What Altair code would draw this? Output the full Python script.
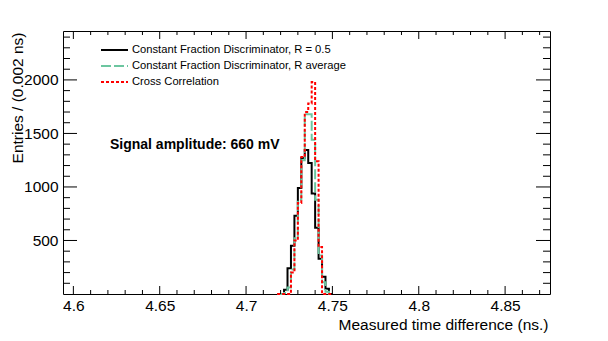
import altair as alt
import pandas as pd

# ---------------- data ----------------
series_names = [
    "Constant Fraction Discriminator, R = 0.5",
    "Constant Fraction Discriminator, R average",
    "Cross Correlation",
]
bin_start = 4.718
bin_width = 0.002
cfd_05 = [0, 0, 40, 240, 450, 730, 990, 1270, 1345, 1225, 940, 620, 330, 160, 50, 0, 0]
cfd_avg = [0, 0, 10, 60, 230, 520, 880, 1250, 1680, 1680, 1440, 880, 360, 110, 20, 0, 0]
cross_corr = [0, 0, 0, 0, 200, 500, 850, 1280, 1700, 1780, 1980, 1240, 440, 0, 0, 0, 0]

x_major = [4.6, 4.65, 4.7, 4.75, 4.8, 4.85]
x_minor = [round(4.6 + 0.01 * i, 2) for i in range(28) if i % 5]
y_major = [500, 1000, 1500, 2000]
y_minor = [v for v in range(100, 2500, 100) if v % 500]

annotation = "Signal amplitude: 660 mV"
x_title = "Measured time difference (ns.)"
y_title = "Entries / (0.002 ns)"

# ---------------- build table ----------------
rows = []
for name, vals in zip(series_names, [cfd_05, cfd_avg, cross_corr]):
    for i, v in enumerate(vals):
        rows.append({"series": name, "x": round(bin_start + bin_width * i, 4), "n": v})
hist = pd.DataFrame(rows)

W, H = 487, 263
FONT = "Liberation Sans"
colors = ["#000000", "#6cc6a0", "#ff0000"]
dashes = [[1, 0], [10, 3], [3, 2]]

xs = alt.Scale(domain=[4.594, 4.876], nice=False, zero=False)
ys = alt.Scale(domain=[0, 2457], nice=False, zero=False)

xaxis = alt.Axis(values=x_major, format="~g", ticks=False, tickSize=0, domain=False, grid=False,
                 labelFont=FONT, labelFontSize=15.5, labelColor="black", labelPadding=4,
                 title=x_title, titleFont=FONT, titleFontSize=15.5, titleFontWeight="normal",
                 titleColor="black", titleX=W - 2, titleY=23, titleAlign="right", titleBaseline="top")
yaxis = alt.Axis(values=y_major, format="d", ticks=False, tickSize=0, domain=False, grid=False,
                 labelFont=FONT, labelFontSize=15.5, labelColor="black", labelPadding=5,
                 title=y_title, titleFont=FONT, titleFontSize=15.5, titleFontWeight="normal",
                 titleColor="black", titleAngle=270, titleAlign="right", titleBaseline="middle",
                 titleX=-46, titleY=1)

leg = alt.Legend(orient="none", legendX=37, legendY=11, title=None, symbolType="stroke",
                 symbolSize=729, symbolStrokeWidth=2, labelFont=FONT, labelFontSize=11.2,
                 labelColor="black", labelOffset=3, clipHeight=16, rowPadding=0, padding=0,
                 labelLimit=400)

lines = alt.Chart(hist).mark_line(interpolate="step-after", strokeWidth=2).encode(
    x=alt.X("x:Q", scale=xs, axis=xaxis),
    y=alt.Y("n:Q", scale=ys, axis=yaxis),
    color=alt.Color("series:N", scale=alt.Scale(domain=series_names, range=colors), legend=leg),
    strokeDash=alt.StrokeDash("series:N", scale=alt.Scale(domain=series_names, range=dashes), legend=leg),
)

def xticks(vals, y0, y1):
    return alt.Chart(pd.DataFrame({"x": vals})).mark_rule(color="black", strokeWidth=1).encode(
        x=alt.X("x:Q", scale=xs, axis=xaxis), y=alt.value(y0), y2=alt.value(y1))

def yticks(vals, x0, x1):
    return alt.Chart(pd.DataFrame({"n": vals})).mark_rule(color="black", strokeWidth=1).encode(
        y=alt.Y("n:Q", scale=ys, axis=yaxis), x=alt.value(x0), x2=alt.value(x1))

ticks = [
    xticks(x_major, H, H - 8), xticks(x_minor, H, H - 4),
    xticks(x_major, 0, 8), xticks(x_minor, 0, 4),
    yticks(y_major, 0, 14), yticks(y_minor, 0, 7),
    yticks(y_major, W, W - 14), yticks(y_minor, W, W - 7),
]

label = alt.Chart(pd.DataFrame({"t": [annotation]})).mark_text(
    align="left", baseline="middle", font=FONT, fontSize=14, fontWeight="bold", color="black"
).encode(x=alt.datum(4.6212), y=alt.datum(1392), text="t:N")

chart = alt.layer(lines, *ticks, label).properties(
    width=W, height=H,
    autosize=alt.AutoSizeParams(type="none"),
    padding={"left": 55, "top": 23, "right": 45, "bottom": 42},
).configure(font=FONT).configure_view(stroke="black", strokeWidth=1)

chart.save("out.html", embed_options={"renderer": "svg", "actions": False})
